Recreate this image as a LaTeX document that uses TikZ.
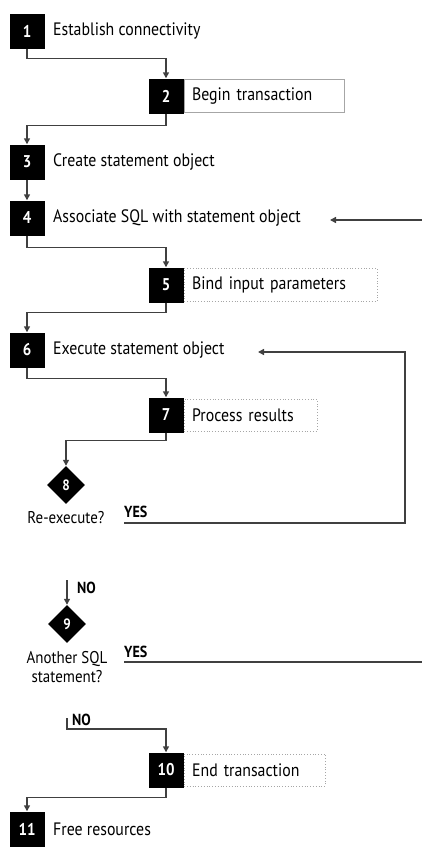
\documentclass[tikz,border=0pt]{standalone}
\usepackage{fontspec}
\setmainfont{PT Sans}[FakeStretch=0.88]
\usetikzlibrary{arrows.meta,shapes.geometric}

\begin{document}
\begin{tikzpicture}[x=1pt, y=-1pt,
    numbox/.style={rectangle, fill=black, text=white, inner sep=0pt, minimum size=35pt, font=\bfseries\fontsize{17}{17}\selectfont},
    numdia/.style={diamond, fill=black, text=white, inner sep=0pt, minimum size=38pt, font=\bfseries\fontsize{15}{15}\selectfont},
    txt/.style={anchor=west, inner sep=0pt, font=\fontsize{18}{20}\selectfont},
    stepbox/.style={draw=black!35, line width=0.8pt, anchor=west, inner sep=8pt, minimum height=32pt, align=left, font=\fontsize{18}{20}\selectfont},
    lbl/.style={inner sep=0pt, align=center, font=\fontsize{17}{19}\selectfont},
    yn/.style={inner sep=0pt, font=\bfseries\fontsize{16}{16}\selectfont},
    flow/.style={draw=black!75, line width=1.4pt, -{Triangle[length=6pt, width=6pt]}},
    wire/.style={draw=black!75, line width=1.4pt}]

    \useasboundingbox (0,0) rectangle (422,847);

    % steps
    \node[numbox](u1) at (27,31) {1};
    \node[txt](t1) at (53,31) {Establish connectivity};
    \node[numbox](u2) at (166,96) {2};
    \node[stepbox, text width=144pt](t2) at (u2.east) {Begin transaction};
    \node[numbox](u3) at (27,162) {3};
    \node[txt](t3) at (53,162) {Create statement object};
    \node[numbox](u4) at (27,218) {4};
    \node[txt](t4) at (53,218) {Associate SQL with statement object};
    \node[numbox](u5) at (166,285) {5};
    \node[stepbox, dotted, text width=177pt](t5) at (u5.east) {Bind input parameters};
    \node[numbox](u6) at (27,350) {6};
    \node[txt](t6) at (53,350) {Execute statement object};
    \node[numbox](u7) at (166,415) {7};
    \node[stepbox, dotted, text width=117pt](t7) at (u7.east) {Process results};
    \node[numdia](u8) at (66,485) {8};
    \node[lbl](t8) at (66,518) {Re-execute?};
    \node[numdia](u9) at (67,624) {9};
    \node[lbl](t9) at (67,667) {Another SQL\\statement?};
    \node[numbox](u10) at (166,770) {10};
    \node[stepbox, dotted, text width=125pt](t10) at (u10.east) {End transaction};
    \node[numbox](u11) at (27,829) {11};
    \node[txt](t11) at (53,829) {Free resources};

    % yes / no
    \node[yn, anchor=west](y8) at (124,512) {YES};
    \node[yn, anchor=west](n8) at (77,588) {NO};
    \node[yn, anchor=west](y9) at (124,652) {YES};
    \node[yn, anchor=west](n9) at (72,720) {NO};

    % free ends
    \coordinate (a8) at (124,523);
    \coordinate (r8) at (405,523);
    \coordinate (in6) at (258,352);
    \coordinate (in4) at (330,220);
    \coordinate (e4) at (422,220);
    \coordinate (b8) at (67,580);
    \coordinate (a9) at (124,662);
    \coordinate (e9) at (422,662);
    \coordinate (b9) at (67,718);

            \draw[flow] (u1.south) -- ++(0,10) -| (u2.north);
            \draw[flow] (u2.south) -- ++(0,12) -| (u3.north);
            \draw[flow] (u3) -- (u4);
            \draw[flow] (u4.south) -- ++(0,12) -| (u5.north);
            \draw[flow] (u5.south) -- ++(0,10) -| (u6.north);
            \draw[flow] (u6.south) -- ++(0,11) -| (u7.north);
            \draw[flow] (u7.south) -- ++(0,8) -| (u8.north);
            \draw[flow] (a8) -- (r8) |- (in6);
            \draw[flow] (e4) -- (in4);
            \draw[flow] (b8) -- (u9.north);
            \draw[wire] (a9) -- (e9);
            \draw[flow] (b9) -- ++(0,11) -| (u10.north);
            \draw[flow] (u10.south) -- ++(0,10) -| (u11.north);

\end{tikzpicture}
\end{document}
